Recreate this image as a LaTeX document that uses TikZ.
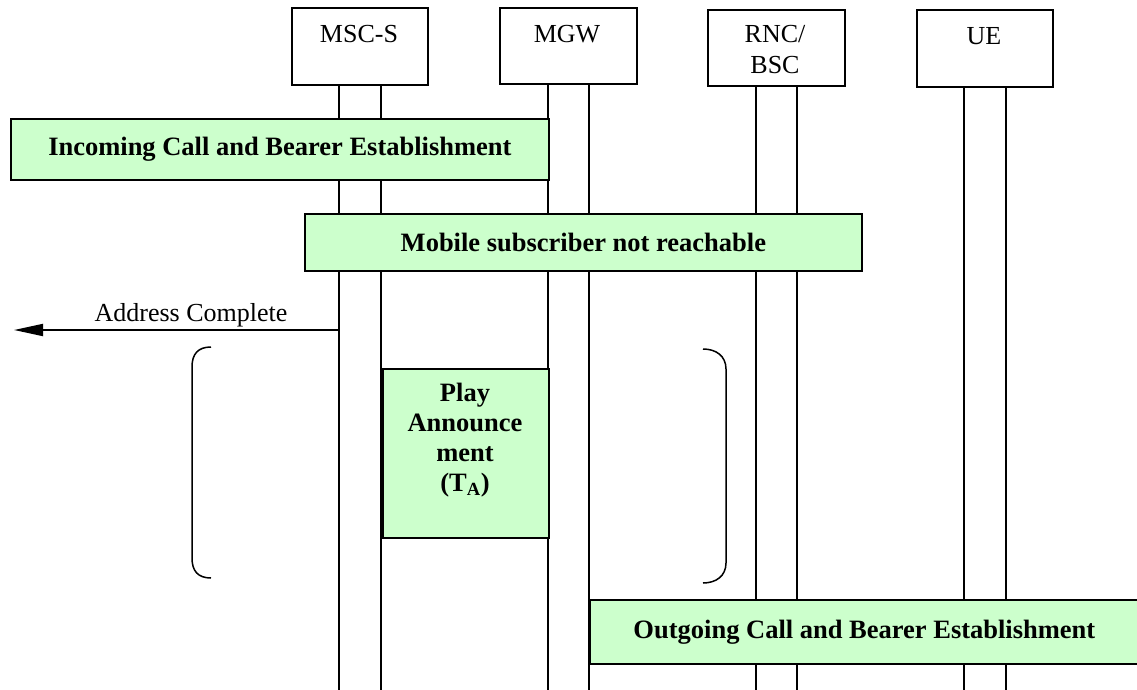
\documentclass[tikz,border=0pt]{standalone}
\usepackage{fontspec}
\setmainfont{Liberation Serif}
\usetikzlibrary{arrows.meta}
\definecolor{phasegreen}{HTML}{CCFFCC}
\begin{document}
\begin{tikzpicture}[x=1pt,y=-1pt,
  every node/.style={font=\fontsize{26}{30}\selectfont},
  entity/.style={draw, line width=1.8pt, fill=white, minimum width=136pt, minimum height=77pt, anchor=north west, inner sep=0pt},
  entlabel/.style={anchor=base, inner sep=0pt, align=center},
  phase/.style={draw, line width=1.8pt, fill=phasegreen, anchor=north west, inner sep=0pt, font=\fontsize{26.5}{30}\selectfont\bfseries},
  life/.style={line width=1.6pt},
  msg/.style={line width=1.8pt, -{Triangle[length=29pt,width=12pt]}},
  brk/.style={line width=1.5pt}
]
\useasboundingbox (0,0) rectangle (1137,690);

% lifelines
\foreach \xx/\yy in {339/84,381/84,548/83,589/83,756/85,797/85,964/86,1006/86}{
  \draw[life] (\xx,\yy) -- (\xx,690);
}

% entity boxes
\node[entity] (msc) at (291,7) {};
\node[entity, minimum width=137pt, minimum height=76pt] (mgw) at (499,7) {};
\node[entity, minimum width=137pt, minimum height=76pt] (rnc) at (707,9) {};
\node[entity, minimum height=77pt] (ue) at (916,9) {};

\node[entlabel] (msct) at (359,43) {MSC-S};
\node[entlabel] (mgwt) at (567,43) {MGW};
\node[entlabel] (rnct) at (775,43) {RNC/};
\node[entlabel] (bsct) at (775,74) {BSC};
\node[entlabel] (uet) at (984,45) {UE};

% phase boxes
\node[phase, minimum width=538pt, minimum height=61pt] (inc) at (10,118) {Incoming Call and Bearer Establishment};
\node[phase, minimum width=557pt, minimum height=57pt] (mob) at (304,213) {Mobile subscriber not reachable};
\node[phase, minimum width=166pt, minimum height=169pt] (play) at (382,368) {};
\node[anchor=north, inner sep=0pt, align=center, font=\fontsize{26.5}{30}\selectfont\bfseries] (playt) at (465,383) {Play\\Announce\\ment\\(T\textsubscript{A})};
\node[phase, minimum width=549pt, minimum height=64pt] (out) at (589,599) {Outgoing Call and Bearer Establishment};

% Address Complete
\coordinate (acs) at (339,330);
\coordinate (ace) at (14,330);
\draw[msg] (acs) -- (ace);
\node[anchor=base, inner sep=0pt] (acl) at (191,321) {Address Complete};

% brackets
\draw[brk] (211,347) .. controls (198,347) and (192,354) .. (192,367) -- (192,558) .. controls (192,571) and (198,578) .. (211,578);
\draw[brk] (703,349) .. controls (716,349) and (726,356) .. (726,369) -- (726,563) .. controls (726,576) and (716,583) .. (703,583);
\end{tikzpicture}
\end{document}
